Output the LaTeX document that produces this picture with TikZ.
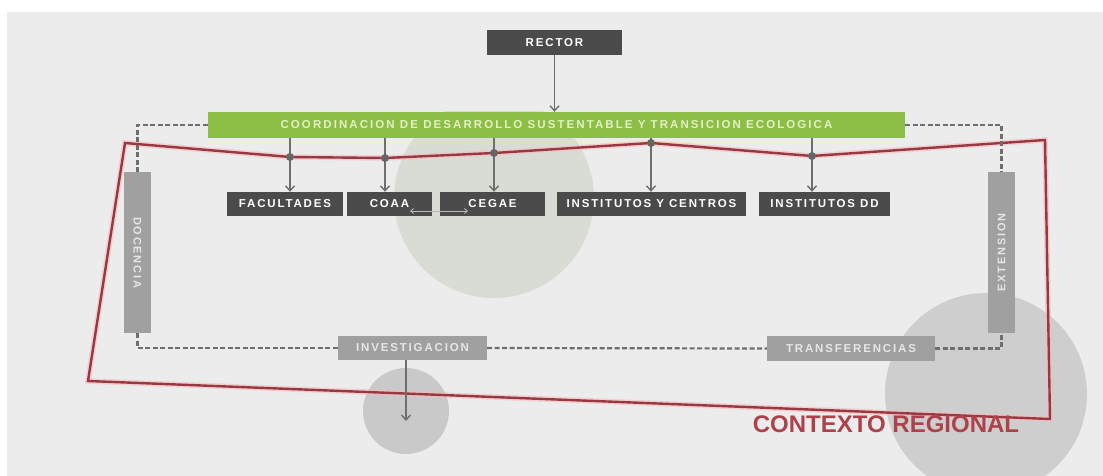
\documentclass[tikz,border=0pt]{standalone}
\usepackage{fontspec}
\setmainfont{Liberation Sans}
\usetikzlibrary{arrows.meta,calc}
\definecolor{bgc}{HTML}{ECECEC}
\definecolor{darkbox}{HTML}{4B4B4B}
\definecolor{lightbox}{HTML}{A0A0A0}
\definecolor{greenbar}{HTML}{8DBE45}
\definecolor{greentext}{HTML}{E2F0C6}
\definecolor{lighttext}{HTML}{E6E6E6}
\definecolor{conn}{HTML}{6E6E6E}
\definecolor{dotc}{HTML}{666666}
\definecolor{redl}{HTML}{9A3841}
\definecolor{redglow}{HTML}{F3BCC0}
\definecolor{redtext}{HTML}{AD424B}
\definecolor{circg}{HTML}{D9DCD4}
\definecolor{circs}{HTML}{C9C9C9}
\definecolor{circb}{HTML}{CECECE}
\newcommand{\lbl}[1]{{\addfontfeature{LetterSpace=16}#1}}
\newcommand{\lblg}[1]{{\addfontfeature{LetterSpace=18}#1}}
\begin{document}
\begin{tikzpicture}[x=1pt,y=-1pt,
  darkboxst/.style={fill=darkbox,text=white,font=\bfseries\fontsize{11.5}{12}\selectfont,inner sep=0pt,minimum height=24pt},
  lightboxst/.style={fill=lightbox,text=lighttext,font=\bfseries\fontsize{11.5}{12}\selectfont,inner sep=0pt},
  greenst/.style={fill=greenbar,text=greentext,font=\bfseries\fontsize{11.5}{12}\selectfont,inner sep=0pt,minimum width=697pt,minimum height=26pt},
  arr/.style={conn,line width=1.4pt,-{Straight Barb[length=5pt,width=9pt]}},
  dashst/.style={conn,line width=2.2pt,dash pattern=on 5pt off 2.5pt},
  dotst/.style={fill=dotc,circle,inner sep=0pt,minimum size=8pt}
]
\useasboundingbox (0,0) rectangle (1103,476);
\fill[white] (0,0) rectangle (1103,476);
\fill[bgc] (7,12) rectangle (1103,476);

% circles
\begin{scope}
\clip (0,112) rectangle (1103,476);
\fill[circg] (494,198) circle (100);
\end{scope}
\fill[circs] (406,411) circle (43);
\fill[circb] (986,394) circle (101);

% red context polygon
\coordinate (r1) at (125,143);
\coordinate (r2) at (290,157);
\coordinate (r3) at (385,158);
\coordinate (r4) at (494,153);
\coordinate (r5) at (651,143);
\coordinate (r6) at (812,156);
\coordinate (r7) at (1045,140);
\coordinate (r8) at (1050,419);
\coordinate (r9) at (88,381);
\draw[redglow,line width=5.5pt,opacity=0.6,line join=miter] (r1)--(r2)--(r3)--(r4)--(r5)--(r6)--(r7)--(r8)--(r9)--cycle;
\draw[redl,line width=2.4pt,line join=miter] (r1)--(r2)--(r3)--(r4)--(r5)--(r6)--(r7)--(r8)--(r9)--cycle;

% nodes
\node[darkboxst,minimum width=135pt,minimum height=25pt] (rector) at (554.5,42.5) {\lbl{RECTOR}};
\node[greenst] (coord) at (556.5,125) {\lblg{COORDINACION DE DESARROLLO SUSTENTABLE Y TRANSICION ECOLOGICA}};
\node[darkboxst,minimum width=116pt] (fac) at (285,204) {\lbl{FACULTADES}};
\node[darkboxst,minimum width=85pt] (coaa) at (389.5,204) {\lbl{COAA}};
\node[darkboxst,minimum width=105pt] (cegae) at (492.5,204) {\lbl{CEGAE}};
\node[darkboxst,minimum width=189pt] (iyc) at (651.5,204) {\lbl{INSTITUTOS Y CENTROS}};
\node[darkboxst,minimum width=131pt] (idd) at (824.5,204) {\lbl{INSTITUTOS DD}};
\node[lightboxst,minimum width=27pt,minimum height=161pt] (doc) at (137.5,252.5) {};
\node[rotate=-90,text=lighttext,font=\bfseries\fontsize{11}{12}\selectfont] (doct) at (doc.center) {\lbl{DOCENCIA}};
\node[lightboxst,minimum width=27pt,minimum height=161pt] (ext) at (1001.5,252.5) {};
\node[rotate=90,text=lighttext,font=\bfseries\fontsize{11}{12}\selectfont] (extt) at (ext.center) {\lbl{EXTENSION}};
\node[lightboxst,minimum width=149pt,minimum height=24pt] (inv) at (412.5,348) {\lbl{INVESTIGACION}};
\node[lightboxst,minimum width=168pt,minimum height=25pt] (tra) at (851,348.5) {\lbl{TRANSFERENCIAS}};
\node[text=redtext,font=\bfseries\fontsize{24}{25}\selectfont,inner sep=0pt] (ctx) at (886,424) {CONTEXTO REGIONAL};

% connectors
\draw[arr] (rector.south) -- (rector.south |- coord.north);
\draw[arr] (coord.south -| r2) -- (fac.north -| r2);
\draw[arr] (coord.south -| r3) -- (coaa.north -| r3);
\draw[arr] (coord.south -| r4) -- (cegae.north -| r4);
\draw[arr] (coord.south -| r5) -- (iyc.north -| r5);
\draw[arr] (coord.south -| r6) -- (idd.north -| r6);
\foreach \p in {r2,r3,r4,r5,r6} \node[dotst] at (\p) {};

\coordinate (l1) at (410,211);
\coordinate (l2) at (468,211);
\draw[gray!55,line width=0.8pt,{Straight Barb[length=3pt,width=5pt]}-{Straight Barb[length=3pt,width=5pt]}] (l1) -- (l2);

\draw[dashst] (coord.west) -| (doc.north);
\draw[dashst] (coord.east) -| (ext.north);
\draw[dashst] (doc.south) |- (inv.west);
\draw[dashst] (inv.east) -- (tra.west);
\draw[dashst] (tra.east) -| (ext.south);

\coordinate (invend) at (406,421);
\draw[arr] (inv.south -| invend) -- (invend);
\end{tikzpicture}
\end{document}
